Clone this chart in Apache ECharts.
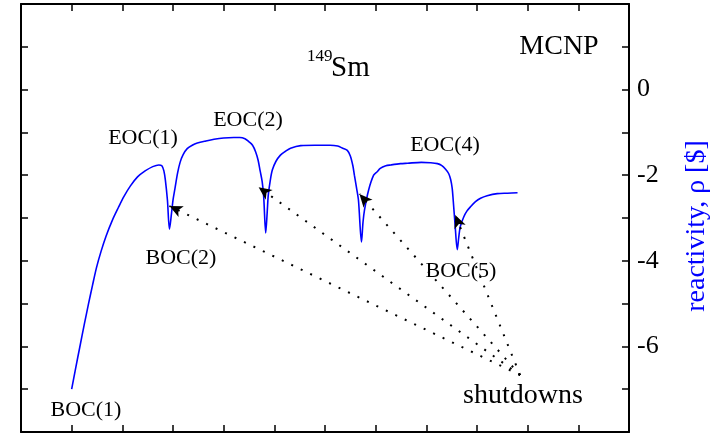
<!DOCTYPE html>
<html>
<head>
<meta charset="utf-8">
<script src="https://cdn.jsdelivr.net/npm/echarts@6/dist/echarts.min.js"></script>
<style>
  html, body { margin: 0; padding: 0; background: #ffffff; }
  #chart { width: 717px; height: 437px; }
</style>
</head>
<body>
<div id="chart"></div>
<script>
// Operating time (cycle units) and Sm-149 reactivity in dollars, MCNP run
const timeX = [
  1.00, 1.08, 1.16, 1.25, 1.33, 1.41, 1.49, 1.58, 1.68, 1.80, 1.92, 2.03, 2.16, 2.30, 2.45, 2.60, 2.72, 2.78,
  2.82, 2.85, 2.89, 2.93, 2.97, 3.00, 3.04, 3.09, 3.14, 3.20, 3.28, 3.38, 3.48, 3.65, 3.81, 4.00, 4.20, 4.32,
  4.42, 4.50, 4.57, 4.63, 4.68, 4.72, 4.76, 4.79, 4.83, 4.86, 4.88, 4.92, 4.96, 5.03, 5.12, 5.22, 5.32, 5.52,
  5.80, 6.10, 6.25, 6.35, 6.44, 6.50, 6.55, 6.58, 6.62, 6.66, 6.72, 6.75, 6.78, 6.86, 6.96, 7.03, 7.09, 7.20,
  7.30, 7.49, 7.63, 7.90, 8.08, 8.22, 8.30, 8.38, 8.44, 8.48, 8.51, 8.53, 8.57, 8.61, 8.64, 8.67, 8.74, 8.80,
  8.87, 8.97, 9.07, 9.20, 9.40, 9.60, 9.80
];
const reactivity = [
  -7.00, -6.50, -6.02, -5.48, -5.02, -4.58, -4.16, -3.78, -3.42, -3.06, -2.76, -2.50, -2.25, -2.04, -1.90, -1.80, -1.76, -1.78,
  -1.90, -2.12, -2.58, -3.26, -2.90, -2.58, -2.30, -1.95, -1.70, -1.52, -1.38, -1.30, -1.25, -1.20, -1.16, -1.13, -1.12, -1.12,
  -1.15, -1.22, -1.30, -1.45, -1.65, -1.90, -2.15, -2.50, -3.35, -2.85, -2.47, -2.12, -1.88, -1.68, -1.53, -1.44, -1.37, -1.31,
  -1.30, -1.30, -1.32, -1.37, -1.42, -1.55, -1.78, -2.00, -2.28, -2.58, -3.56, -3.10, -2.81, -2.35, -2.00, -1.92, -1.84, -1.78,
  -1.76, -1.73, -1.72, -1.70, -1.71, -1.73, -1.77, -1.86, -1.96, -2.10, -2.30, -2.58, -3.20, -3.74, -3.45, -3.20, -2.97, -2.84,
  -2.74, -2.62, -2.54, -2.48, -2.43, -2.42, -2.41
];

// Shutdown annotation: common origin and the restart points it points to
const shutdownOrigin = [9.85, -6.67];
const shutdownTargets = [[2.93, -2.72], [4.69, -2.28], [6.68, -2.44], [8.57, -2.93]];

// Labelled reactivity ticks
const yTickLabels = [0, -2, -4, -6];

const serif = "'Liberation Serif', 'Times New Roman', serif";

const chart = echarts.init(document.getElementById('chart'), null, { renderer: 'canvas' });

const frameAxis = {
  axisLine: { show: true, onZero: false, lineStyle: { color: '#000', width: 2 } },
  axisTick: { show: true, inside: true, length: 7, lineStyle: { color: '#000', width: 1.5 } },
  axisLabel: { show: false },
  splitLine: { show: false }
};

chart.setOption({
  animation: false,
  backgroundColor: '#ffffff',
  grid: { left: 21, right: 88, top: 4, bottom: 5 },
  xAxis: [
    Object.assign({ type: 'value', position: 'bottom', min: 0, max: 12, interval: 1 }, frameAxis),
    Object.assign({ type: 'value', position: 'top', min: 0, max: 12, interval: 1 }, frameAxis)
  ],
  yAxis: [
    Object.assign({}, frameAxis, {
      type: 'value', position: 'right', min: -8, max: 2, interval: 1,
      axisLabel: {
        show: true, margin: 8, color: '#000', fontFamily: serif, fontSize: 26,
        formatter: v => (yTickLabels.indexOf(v) >= 0 ? String(v) : '')
      }
    }),
    Object.assign({ type: 'value', position: 'left', min: -8, max: 2, interval: 1 }, frameAxis)
  ],
  series: [
    {
      type: 'line',
      xAxisIndex: 0,
      yAxisIndex: 0,
      data: timeX.map((x, i) => [x, reactivity[i]]),
      showSymbol: false,
      smooth: 0.3,
      lineStyle: { color: '#0000ff', width: 1.6 },
      silent: true,
      markLine: {
        silent: true,
        symbol: ['none', 'arrow'],
        symbolSize: [9, 13],
        label: { show: false },
        lineStyle: { color: '#000', width: 2, type: [2, 8.5] },
        emphasis: { disabled: true },
        data: shutdownTargets.map(t => [{ coord: shutdownOrigin }, { coord: t }])
      }
    }
  ],
  graphic: [
    { type: 'text', x: 143, y: 138, style: { text: 'EOC(1)', font: '22px ' + serif, fill: '#000', align: 'center', verticalAlign: 'middle' } },
    { type: 'text', x: 248, y: 120, style: { text: 'EOC(2)', font: '22px ' + serif, fill: '#000', align: 'center', verticalAlign: 'middle' } },
    { type: 'text', x: 445, y: 145, style: { text: 'EOC(4)', font: '22px ' + serif, fill: '#000', align: 'center', verticalAlign: 'middle' } },
    { type: 'text', x: 181, y: 258, style: { text: 'BOC(2)', font: '22px ' + serif, fill: '#000', align: 'center', verticalAlign: 'middle' } },
    { type: 'text', x: 86, y: 410, style: { text: 'BOC(1)', font: '22px ' + serif, fill: '#000', align: 'center', verticalAlign: 'middle' } },
    { type: 'text', x: 461, y: 271, style: { text: 'BOC(5)', font: '22px ' + serif, fill: '#000', align: 'center', verticalAlign: 'middle' } },
    { type: 'text', x: 523, y: 396, style: { text: 'shutdowns', font: '28px ' + serif, fill: '#000', align: 'center', verticalAlign: 'middle' } },
    { type: 'text', x: 559, y: 47, style: { text: 'MCNP', font: '28px ' + serif, fill: '#000', align: 'center', verticalAlign: 'middle' } },
    { type: 'text', x: 307, y: 57, style: { text: '149', font: '17px ' + serif, fill: '#000', align: 'left', verticalAlign: 'middle' } },
    { type: 'text', x: 331, y: 68, style: { text: 'Sm', font: '29px ' + serif, fill: '#000', align: 'left', verticalAlign: 'middle' } },
    { type: 'text', x: 697, y: 226, rotation: Math.PI / 2, style: { text: 'reactivity, ρ [$]', font: '28px ' + serif, fill: '#0000ff', align: 'center', verticalAlign: 'middle' } }
  ]
});
</script>
</body>
</html>
